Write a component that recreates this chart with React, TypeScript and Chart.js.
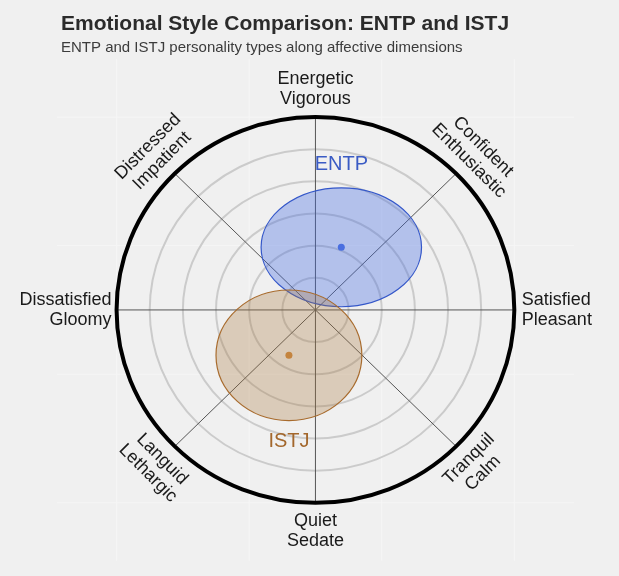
import React, { useEffect, useRef } from "react";
import { Chart, registerables } from "chart.js";

Chart.register(...registerables);

// ---- text ----
const TITLE = "Emotional Style Comparison: ENTP and ISTJ";
const SUBTITLE = "ENTP and ISTJ personality types along affective dimensions";

// ---- series (affective plane: x = pleasant/unpleasant, y = energetic/quiet) ----
const types = ["ENTP", "ISTJ"];
const centerX = [0.39, -0.4];
const centerY = [0.975, -0.705];
const spreadX = [1.21, 1.1];
const spreadY = [0.925, 1.015];

// ---- axes ----
const axisAngles = [0, 45, 90, 135, 180, 225, 270, 315];
const axisLabels = [
  ["Satisfied", "Pleasant"],
  ["Confident", "Enthusiastic"],
  ["Energetic", "Vigorous"],
  ["Distressed", "Impatient"],
  ["Dissatisfied", "Gloomy"],
  ["Languid", "Lethargic"],
  ["Quiet", "Sedate"],
  ["Tranquil", "Calm"],
];
const ringValues = [0.5, 1, 1.5, 2, 2.5];
const outerRadius = 3;
const gridTicks = [-3, -1, 1, 3];
const axisMin = -3.9;
const axisMax = 3.9;

// ---- styles ----
const strokeColors = ["#3457c9", "#a86b2d"];
const fillColors = ["rgba(65,105,225,0.35)", "rgba(170,120,60,0.30)"];
const dotColors = ["#4a6fe0", "#c4843f"];
const labelColors = ["#3a5bc4", "#a3672c"];
const FONT = "'Liberation Sans', Arial, Helvetica, sans-serif";

const decorPlugin = {
  id: "decor",
  beforeDraw(chart: any) {
    const { ctx, width, height, chartArea } = chart;
    const x = chart.scales.x;
    const y = chart.scales.y;
    ctx.save();
    ctx.fillStyle = "#f0f0f0";
    ctx.fillRect(0, 0, width, height);

    // faint background grid
    ctx.strokeStyle = "#f6f6f6";
    ctx.lineWidth = 1;
    gridTicks.forEach((v) => {
      const px = x.getPixelForValue(v);
      const py = y.getPixelForValue(v);
      ctx.beginPath();
      ctx.moveTo(px, chartArea.top);
      ctx.lineTo(px, chartArea.bottom);
      ctx.moveTo(chartArea.left, py);
      ctx.lineTo(chartArea.right, py);
      ctx.stroke();
    });

    const cx = x.getPixelForValue(0);
    const cy = y.getPixelForValue(0);
    const sx = x.getPixelForValue(1) - cx;
    const sy = cy - y.getPixelForValue(1);

    // rings
    ctx.strokeStyle = "#cbcbcb";
    ctx.lineWidth = 2;
    ringValues.forEach((r) => {
      ctx.beginPath();
      ctx.ellipse(cx, cy, r * sx, r * sy, 0, 0, Math.PI * 2);
      ctx.stroke();
    });

    // spokes
    ctx.strokeStyle = "#555555";
    ctx.lineWidth = 1;
    axisAngles.forEach((a) => {
      const rad = (a * Math.PI) / 180;
      ctx.beginPath();
      ctx.moveTo(cx, cy);
      ctx.lineTo(
        x.getPixelForValue(outerRadius * Math.cos(rad)),
        y.getPixelForValue(outerRadius * Math.sin(rad))
      );
      ctx.stroke();
    });

    // outer circle
    ctx.strokeStyle = "#000000";
    ctx.lineWidth = 4;
    ctx.beginPath();
    ctx.ellipse(cx, cy, outerRadius * sx, outerRadius * sy, 0, 0, Math.PI * 2);
    ctx.stroke();
    ctx.restore();
  },
  beforeDatasetsDraw(chart: any) {
    const { ctx } = chart;
    const x = chart.scales.x;
    const y = chart.scales.y;
    ctx.save();
    types.forEach((_, i) => {
      const px = x.getPixelForValue(centerX[i]);
      const py = y.getPixelForValue(centerY[i]);
      const rx = Math.abs(x.getPixelForValue(centerX[i] + spreadX[i]) - px);
      const ry = Math.abs(y.getPixelForValue(centerY[i] + spreadY[i]) - py);
      ctx.beginPath();
      ctx.ellipse(px, py, rx, ry, 0, 0, Math.PI * 2);
      ctx.fillStyle = fillColors[i];
      ctx.fill();
      ctx.strokeStyle = strokeColors[i];
      ctx.lineWidth = 1.2;
      ctx.stroke();
    });
    ctx.restore();
  },
  afterDraw(chart: any) {
    const { ctx } = chart;
    const x = chart.scales.x;
    const y = chart.scales.y;
    ctx.save();

    // type labels
    ctx.font = `20px ${FONT}`;
    ctx.textAlign = "center";
    ctx.textBaseline = "middle";
    types.forEach((t, i) => {
      const above = centerY[i] >= 0;
      const ly = above ? centerY[i] + spreadY[i] + 0.36 : centerY[i] - spreadY[i] - 0.32;
      ctx.fillStyle = labelColors[i];
      ctx.fillText(t, x.getPixelForValue(centerX[i]), y.getPixelForValue(ly));
    });

    // axis labels
    ctx.font = `18px ${FONT}`;
    ctx.fillStyle = "#1a1a1a";
    const lineH = 20;
    axisAngles.forEach((a, i) => {
      const rad = (a * Math.PI) / 180;
      const ex = x.getPixelForValue(outerRadius * Math.cos(rad));
      const ey = y.getPixelForValue(outerRadius * Math.sin(rad));
      const lines = axisLabels[i];
      const n = lines.length;
      ctx.save();
      if (a === 0 || a === 180) {
        ctx.textAlign = a === 0 ? "left" : "right";
        const ax = a === 0 ? ex + 7.5 : ex - 5;
        lines.forEach((s, k) => ctx.fillText(s, ax, ey + (k - (n - 1) / 2) * lineH));
      } else {
        const gap = 28;
        const bx = ex + Math.cos(rad) * gap;
        const by = ey - Math.sin(rad) * gap;
        let rot = 90 - a;
        while (rot > 90) rot -= 180;
        while (rot <= -90) rot += 180;
        ctx.translate(bx, by);
        ctx.rotate((rot * Math.PI) / 180);
        ctx.textAlign = "center";
        lines.forEach((s, k) => ctx.fillText(s, 0, (k - (n - 1) / 2) * lineH));
      }
      ctx.restore();
    });

    // title + subtitle
    ctx.textAlign = "left";
    ctx.textBaseline = "alphabetic";
    ctx.fillStyle = "#2b2b2b";
    ctx.font = `bold 21px ${FONT}`;
    ctx.fillText(TITLE, 61, 30);
    ctx.fillStyle = "#3c3c3c";
    ctx.font = `15px ${FONT}`;
    ctx.fillText(SUBTITLE, 61, 52);
    ctx.restore();
  },
};

export default function App() {
  const canvasRef = useRef<HTMLCanvasElement | null>(null);

  useEffect(() => {
    document.body.style.margin = "0";
    const canvas = canvasRef.current;
    if (!canvas) return;
    const chart = new Chart(canvas, {
      type: "scatter",
      data: {
        datasets: types.map((t, i) => ({
          label: t,
          data: [{ x: centerX[i], y: centerY[i] }],
          pointRadius: 3.5,
          pointBackgroundColor: dotColors[i],
          pointBorderWidth: 0,
          showLine: false,
        })),
      },
      options: {
        responsive: false,
        animation: false,
        events: [],
        layout: { padding: { left: 56.9, right: 45, top: 59.2, bottom: 15.3 } },
        scales: {
          x: { type: "linear", min: axisMin, max: axisMax, display: false },
          y: { type: "linear", min: axisMin, max: axisMax, display: false },
        },
        plugins: {
          legend: { display: false },
          tooltip: { enabled: false },
          title: { display: false },
        },
      },
      plugins: [decorPlugin],
    });
    return () => chart.destroy();
  }, []);

  return (
    <div style={{ width: 619, height: 576 }}>
      <canvas ref={canvasRef} width={619} height={576} style={{ display: "block" }} />
    </div>
  );
}
